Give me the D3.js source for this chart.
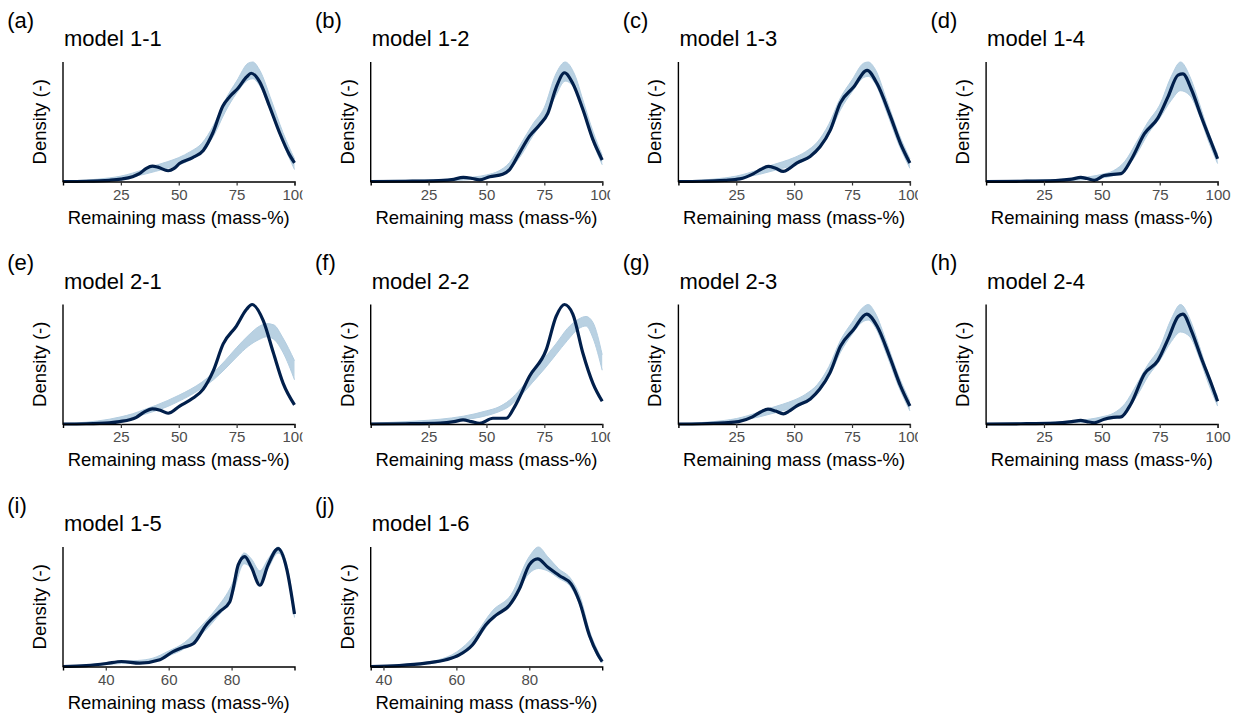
<!DOCTYPE html>
<html>
<head>
<meta charset="utf-8">
<script src="https://cdn.jsdelivr.net/npm/d3@7"></script>
<style>
  html, body { margin: 0; padding: 0; background: #fff; }
  svg { display: block; font-family: "Liberation Sans", Arial, Helvetica, sans-serif; }
</style>
</head>
<body>
<svg id="chart" width="1237" height="717"></svg>
<script>
// ---------------- DATA ----------------
const tags = ["(a)","(b)","(c)","(d)","(e)","(f)","(g)","(h)","(i)","(j)"];
const titles = ["model 1-1","model 1-2","model 1-3","model 1-4","model 2-1","model 2-2","model 2-3","model 2-4","model 1-5","model 1-6"];
const xDomains = [[0,100],[0,100],[0,100],[0,100],[0,100],[0,100],[0,100],[0,100],[26.4,100],[36.5,100]];
const xTicksFull = [25, 50, 75, 100];
const xTicksTrim = [40, 60, 80];
const xLabel = "Remaining mass (mass-%)";
const yLabel = "Density (-)";

// observed density curves [x, density]
const obs11 = [[0,0],[10,0.002],[20,0.01],[25,0.02],[30,0.04],[33,0.065],[36,0.11],[38.6,0.128],[41,0.12],[45.4,0.09],[48,0.11],[50.3,0.15],[56,0.2],[60.6,0.26],[64.8,0.41],[69,0.63],[72,0.71],[75.6,0.78],[79.3,0.875],[81.3,0.906],[84.9,0.836],[89.2,0.63],[93.5,0.41],[97.8,0.225],[100,0.156]];
const obs12 = [[0,0],[15,0.002],[27,0.005],[35,0.015],[40,0.034],[44,0.025],[47,0.014],[51.4,0.04],[57,0.06],[60,0.1],[64.3,0.24],[68.6,0.38],[73,0.475],[76.5,0.57],[80,0.78],[83.7,0.91],[87.3,0.82],[91.7,0.6],[96,0.35],[100,0.18]];
const obs13 = [[0,0],[10,0.002],[20,0.01],[26.5,0.022],[32.3,0.064],[35.5,0.1],[38.8,0.126],[42,0.11],[45.3,0.084],[48,0.11],[51.1,0.154],[56.9,0.21],[61.2,0.29],[65.6,0.43],[69.9,0.656],[75.7,0.79],[81.5,0.93],[85.8,0.82],[91.6,0.545],[95.9,0.32],[100,0.154]];
const obs14 = [[0,0],[15,0.002],[30,0.008],[37,0.02],[40.9,0.034],[43.5,0.025],[46.7,0.01],[51,0.05],[55,0.06],[58.3,0.066],[62.6,0.18],[68.4,0.4],[74.2,0.53],[78.6,0.71],[82.9,0.89],[85,0.9],[88.7,0.77],[93,0.54],[97.4,0.32],[100,0.19]];
const obs21 = [[0,0],[10,0.002],[20,0.01],[24.5,0.02],[31.7,0.056],[35,0.1],[38.6,0.127],[42,0.115],[45.4,0.09],[50.4,0.15],[56.2,0.217],[60.5,0.29],[64.8,0.44],[69.2,0.67],[74.9,0.82],[79.3,0.96],[81.7,1.0],[86.5,0.865],[90.8,0.6],[95.1,0.34],[100,0.16]];
const obs22 = [[0,0],[15,0.002],[30,0.008],[36,0.02],[39.9,0.034],[43.5,0.02],[47,0.006],[52.8,0.048],[58.6,0.048],[62.2,0.146],[68.6,0.4],[75.8,0.62],[80.1,0.9],[83.7,1.0],[87.3,0.92],[91.7,0.59],[96,0.34],[100,0.19]];
const obs23 = [[0,0],[10,0.002],[20,0.01],[26,0.02],[32,0.06],[35.5,0.1],[38.7,0.125],[42,0.108],[45.3,0.085],[48,0.11],[51,0.15],[57,0.21],[61,0.29],[65.5,0.43],[70,0.65],[75.7,0.79],[81.3,0.92],[85.8,0.82],[91.5,0.55],[95.9,0.32],[100,0.15]];
const obs24 = [[0,0],[15,0.002],[30,0.008],[37,0.02],[40.9,0.03],[43.5,0.02],[46.7,0.01],[51,0.04],[55,0.055],[58.3,0.06],[62.6,0.17],[68.4,0.42],[74.2,0.53],[78.6,0.71],[83,0.9],[85,0.92],[88.7,0.78],[93,0.55],[97.4,0.33],[100,0.19]];
const obs15 = [[26.4,0],[33.8,0.008],[40.2,0.025],[45,0.042],[50.8,0.028],[57.2,0.056],[61.4,0.125],[64.6,0.16],[67.8,0.19],[72,0.35],[76.2,0.46],[79.4,0.54],[80.5,0.65],[82.1,0.85],[84.2,0.92],[86.3,0.83],[89,0.68],[91.6,0.85],[94.8,0.986],[97.5,0.82],[100,0.44]];
const obs16 = [[36.5,0],[44.3,0.008],[51.6,0.028],[57.1,0.056],[60.8,0.097],[64.4,0.18],[68.1,0.35],[70.9,0.43],[74.5,0.51],[77.3,0.65],[80,0.85],[82.3,0.9],[85.1,0.83],[88.3,0.76],[91.5,0.69],[93.8,0.54],[96.5,0.26],[98.8,0.1],[100,0.04]];

// replicated-density envelopes [x, lowest replicate, highest replicate]
const rep11 = [[0,0,0.004],[10,0.003,0.012],[20,0.014,0.03],[25,0.025,0.045],[30,0.04,0.07],[35,0.06,0.1],[40,0.085,0.135],[45,0.11,0.165],[50,0.14,0.2],[55,0.18,0.25],[60,0.25,0.32],[65,0.38,0.47],[70,0.58,0.68],[75,0.74,0.84],[80,0.85,0.99],[82,0.86,1.0],[85,0.8,0.93],[90,0.57,0.68],[95,0.32,0.41],[100,0.1,0.19]];
const rep12 = [[0,0,0.006],[10,0.002,0.01],[20,0.003,0.012],[30,0.005,0.016],[40,0.012,0.03],[50,0.03,0.055],[55,0.05,0.085],[60,0.1,0.16],[65,0.22,0.32],[70,0.38,0.48],[75,0.52,0.62],[80,0.72,0.9],[84,0.84,1.0],[88,0.78,0.9],[92,0.57,0.66],[96,0.33,0.42],[100,0.14,0.22]];
const rep13 = [[0,0,0.004],[10,0.003,0.012],[20,0.014,0.03],[25,0.025,0.045],[30,0.04,0.07],[35,0.06,0.1],[40,0.085,0.135],[45,0.11,0.165],[50,0.14,0.2],[55,0.18,0.25],[60,0.26,0.33],[65,0.39,0.48],[70,0.6,0.7],[75,0.75,0.85],[80,0.87,0.99],[82,0.88,1.0],[85,0.82,0.94],[90,0.58,0.68],[95,0.32,0.41],[100,0.11,0.19]];
const rep14 = [[0,0,0.005],[20,0.003,0.012],[30,0.005,0.016],[40,0.012,0.03],[50,0.03,0.06],[55,0.05,0.09],[60,0.1,0.17],[65,0.23,0.33],[70,0.4,0.5],[75,0.53,0.64],[80,0.68,0.88],[84,0.76,1.0],[88,0.72,0.88],[92,0.56,0.66],[96,0.34,0.42],[100,0.15,0.23]];
const rep21 = [[0,0,0.005],[10,0.005,0.015],[20,0.02,0.04],[25,0.035,0.06],[30,0.055,0.085],[35,0.08,0.12],[40,0.11,0.155],[45,0.145,0.195],[50,0.19,0.24],[55,0.24,0.29],[60,0.3,0.35],[65,0.37,0.43],[70,0.46,0.53],[75,0.56,0.64],[80,0.65,0.74],[85,0.71,0.82],[88,0.73,0.84],[91,0.71,0.83],[95,0.6,0.72],[100,0.37,0.53]];
const rep22 = [[0,0,0.006],[10,0.004,0.015],[20,0.01,0.025],[30,0.02,0.04],[40,0.035,0.065],[50,0.07,0.11],[55,0.1,0.14],[60,0.15,0.2],[65,0.24,0.3],[70,0.35,0.42],[75,0.46,0.55],[80,0.58,0.67],[85,0.7,0.8],[90,0.8,0.88],[93,0.82,0.9],[96,0.72,0.85],[100,0.45,0.58]];
const rep23 = [[0,0,0.004],[10,0.003,0.012],[20,0.014,0.03],[25,0.025,0.045],[30,0.04,0.07],[35,0.06,0.1],[40,0.085,0.135],[45,0.11,0.165],[50,0.14,0.2],[55,0.18,0.25],[60,0.26,0.33],[65,0.39,0.48],[70,0.6,0.7],[75,0.75,0.85],[80,0.86,0.98],[82,0.87,1.0],[85,0.81,0.93],[90,0.58,0.68],[95,0.32,0.41],[100,0.11,0.19]];
const rep24 = [[0,0,0.005],[20,0.003,0.012],[30,0.005,0.016],[40,0.012,0.03],[50,0.03,0.06],[55,0.05,0.09],[60,0.1,0.17],[65,0.23,0.33],[70,0.4,0.5],[75,0.53,0.64],[80,0.69,0.88],[84,0.77,1.0],[88,0.73,0.88],[92,0.56,0.66],[96,0.34,0.42],[100,0.15,0.23]];
const rep15 = [[26.4,0,0.004],[35,0.005,0.015],[40,0.015,0.03],[45,0.025,0.045],[50,0.028,0.05],[55,0.045,0.07],[60,0.09,0.13],[65,0.15,0.2],[70,0.26,0.33],[75,0.4,0.48],[80,0.58,0.68],[84,0.86,0.95],[86.3,0.82,0.9],[89,0.7,0.8],[91.6,0.82,0.9],[94.8,0.95,1.0],[97.5,0.8,0.86],[100,0.41,0.46]];
const rep16 = [[36.5,0,0.005],[45,0.005,0.015],[50,0.015,0.03],[55,0.035,0.055],[60,0.08,0.12],[65,0.2,0.26],[70,0.4,0.47],[75,0.52,0.6],[80,0.78,0.92],[82.5,0.82,1.0],[85,0.8,0.92],[88,0.74,0.82],[91.5,0.66,0.73],[94,0.5,0.58],[96.5,0.24,0.3],[98.8,0.08,0.13],[100,0.03,0.06]];

const observed = [obs11, obs12, obs13, obs14, obs21, obs22, obs23, obs24, obs15, obs16];
const replicated = [rep11, rep12, rep13, rep14, rep21, rep22, rep23, rep24, rep15, rep16];

// ---------------- LAYOUT ----------------
const colW = 307.7, rowH = 242.5;
const pL = 63, pT = 62, pW = 231.5, pH = 119.5;
const darkCol = "#011f4b", lightCol = "#b3cde0", tickCol = "#4d4d4d";

const svg = d3.select("#chart");
svg.append("rect").attr("width", 1237).attr("height", 717).attr("fill", "#fff");

observed.forEach((obs, k) => {
  const col = k % 4, row = Math.floor(k / 4);
  const x0 = col * colW, y0 = row * rowH;
  const g = svg.append("g").attr("transform", `translate(${x0},${y0})`);
  // panel background (covers overflow of previous panel's text)
  g.append("rect").attr("x", col > 0 ? -5.2 : 0).attr("y", 0)
    .attr("width", colW).attr("height", rowH).attr("fill", "#fff");

  const rep = replicated[k];
  const x = d3.scaleLinear().domain(xDomains[k]).range([pL, pL + pW]);
  const yMax = d3.max([d3.max(obs, d => d[1]), d3.max(rep, d => d[2])]);
  const y = d3.scaleLinear().domain([0, yMax]).range([pT + pH, pT]);

  const area = d3.area().curve(d3.curveMonotoneX)
    .x(d => x(d[0])).y0(d => y(d[1])).y1(d => y(d[2]));
  const lineLo = d3.line().curve(d3.curveMonotoneX).x(d => x(d[0])).y(d => y(d[1]));
  const lineHi = d3.line().curve(d3.curveMonotoneX).x(d => x(d[0])).y(d => y(d[2]));
  const lineObs = d3.line().curve(d3.curveMonotoneX).x(d => x(d[0])).y(d => y(d[1]));

  g.append("path").datum(rep).attr("d", area)
    .attr("fill", lightCol).attr("fill-opacity", 0.92);
  g.append("path").datum(rep).attr("d", lineLo)
    .attr("fill", "none").attr("stroke", lightCol).attr("stroke-width", 1);
  g.append("path").datum(rep).attr("d", lineHi)
    .attr("fill", "none").attr("stroke", lightCol).attr("stroke-width", 1);

  g.append("path").datum(obs).attr("d", lineObs)
    .attr("fill", "none").attr("stroke", darkCol).attr("stroke-width", 3.2)
    .attr("stroke-linejoin", "round").attr("stroke-linecap", "butt");

  // x axis
  const ticks = k >= 8 ? xTicksTrim : xTicksFull;
  const ax = g.append("g").attr("transform", `translate(0,${pT + pH})`)
    .call(d3.axisBottom(x).tickValues(ticks).tickSizeOuter(0).tickSize(4).tickPadding(3));
  ax.select(".domain").attr("stroke", "#000").attr("stroke-width", 1.4);
  ax.selectAll(".tick line").attr("stroke", "#333").attr("stroke-width", 1.2);
  ax.selectAll(".tick text").attr("fill", tickCol).attr("font-size", 15)
    .attr("font-family", "Liberation Sans, Arial, sans-serif").attr("dy", "0.75em");

  // y axis line
  g.append("line").attr("x1", pL).attr("x2", pL)
    .attr("y1", pT).attr("y2", pT + pH + 0.7)
    .attr("stroke", "#000").attr("stroke-width", 1.4);

  // labels
  g.append("text").attr("x", 7.3).attr("y", 27.5).attr("font-size", 22).text(tags[k]);
  g.append("text").attr("x", pL + 1).attr("y", 46).attr("font-size", 22).text(titles[k]);
  g.append("text").attr("x", pL + pW / 2).attr("y", 223.5).attr("font-size", 18.5)
    .attr("text-anchor", "middle").text(xLabel);
  g.append("text").attr("transform", `translate(46,${pT + pH / 2}) rotate(-90)`)
    .attr("font-size", 18.5).attr("text-anchor", "middle").text(yLabel);
});
</script>
</body>
</html>
